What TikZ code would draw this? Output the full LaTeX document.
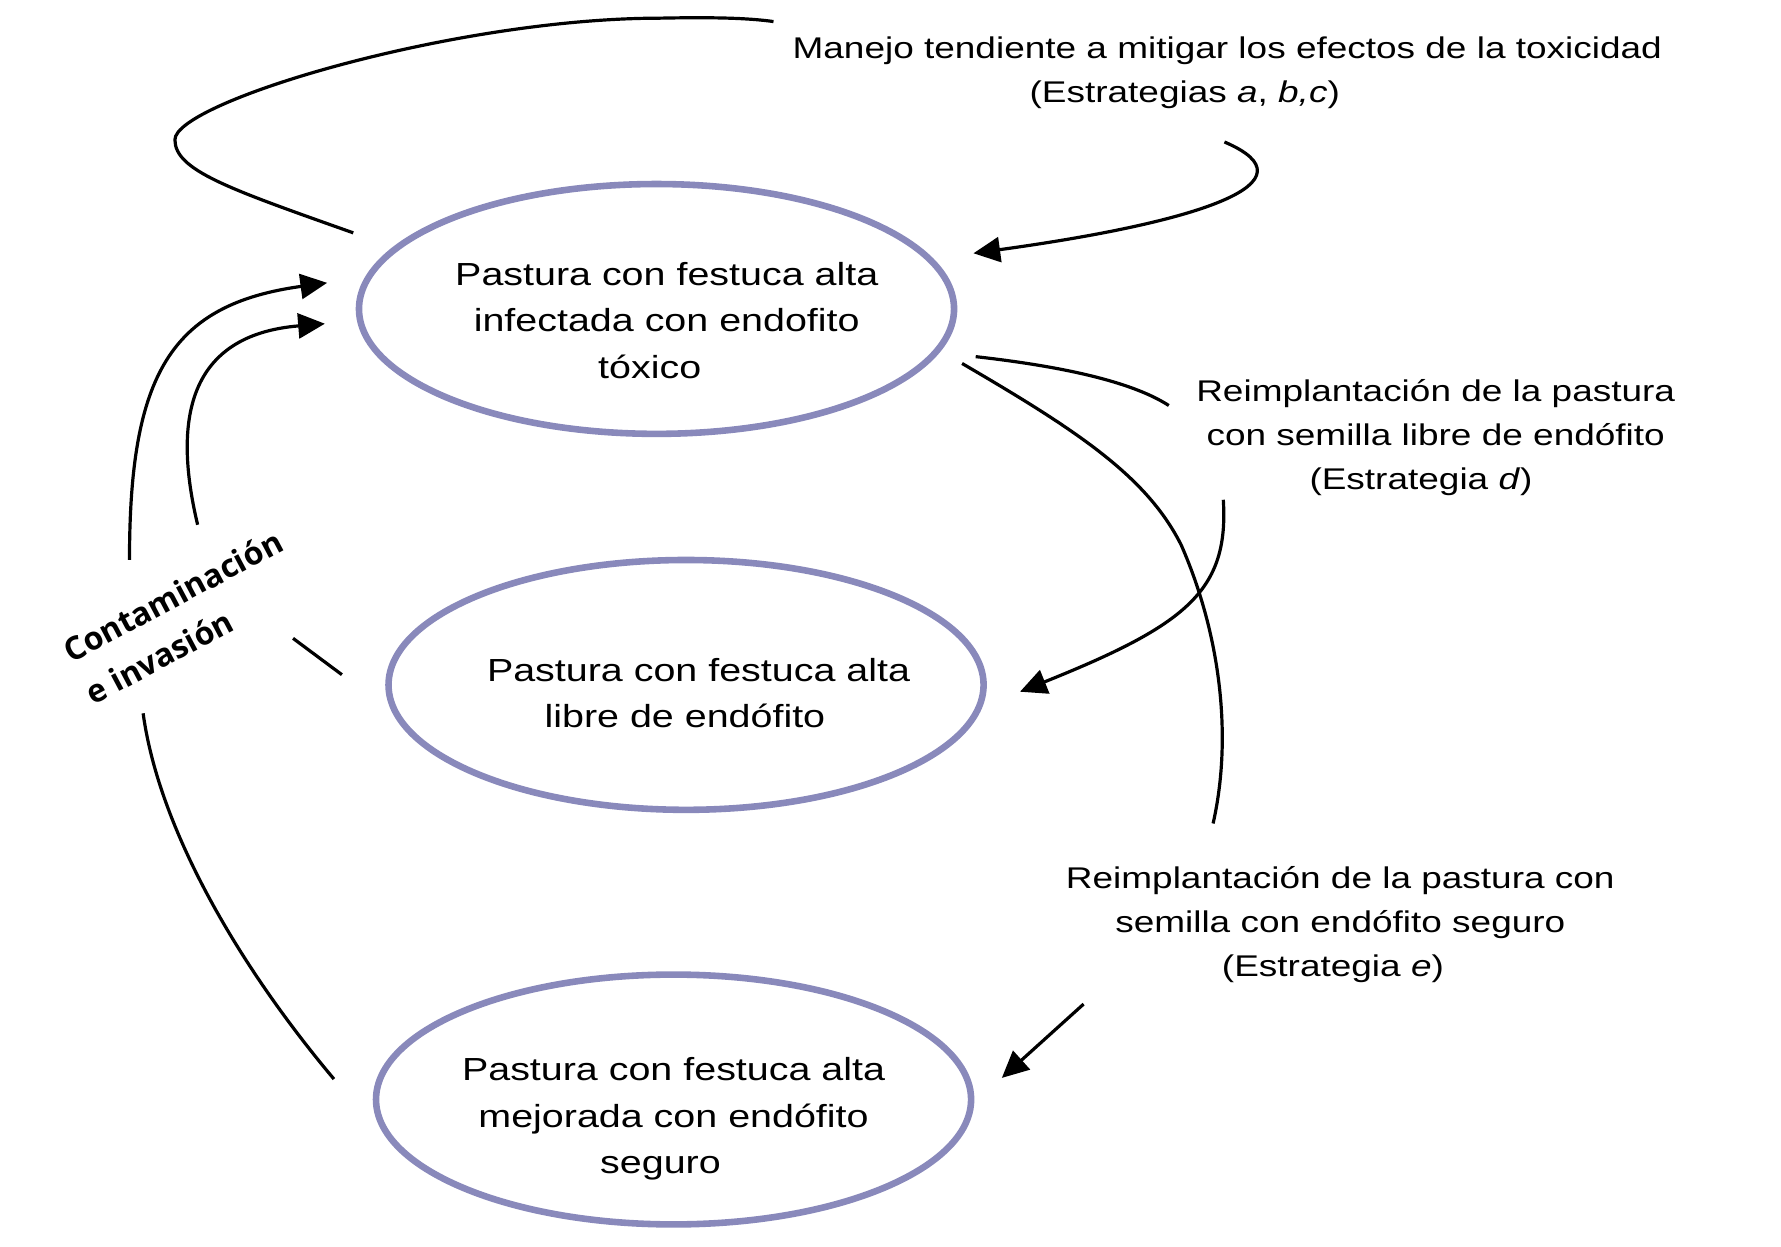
\documentclass[tikz,border=0pt]{standalone}
\usepackage{fontspec}
\setmainfont{Liberation Sans}[FakeStretch=1.235]
\newfontfamily\contfont{Open Sans}
\usetikzlibrary{shapes.geometric,arrows.meta}
\definecolor{ellcol}{RGB}{137,137,187}
\begin{document}
\begin{tikzpicture}[x=0.02cm,y=-0.02cm,
  pasture/.style={draw=ellcol,line width=3.3pt,ellipse,inner sep=0pt,minimum width=10.48cm,minimum height=4.4cm},
  pastext/.style={align=center,inner sep=0pt,font=\fontsize{16}{23.3}\selectfont},
  lbl/.style={align=center,inner sep=0pt,font=\fontsize{15}{22.1}\selectfont},
  conn/.style={line width=1.6pt,black},
  arr/.style={conn,-{Triangle[length=0.47cm,width=0.44cm]}}]
\useasboundingbox (0,0) rectangle (1568,1097);

% ellipses
\node[pasture] (e1) at (578,272) {};
\node[pasture] (e2) at (604,603) {};
\node[pasture] (e3) at (593,968) {};

\node[pastext] (t1) at (587,282) {Pastura con festuca alta\\infectada con endofito\\t\'oxico\hspace*{0.6cm}};
\node[pastext] (t2) at (615,610) {Pastura con festuca alta\\libre de end\'ofito\hspace*{0.48cm}};
\node[pastext] (t3) at (593,985) {Pastura con festuca alta\\mejorada con end\'ofito\hspace*{0.24cm}\\seguro\hspace*{0.46cm}};

% labels
\node[lbl] (lman) at (1061,64) {\hspace*{0.78cm}Manejo tendiente a mitigar los efectos de la toxicidad\\(Estrategias \textit{a}, \textit{b,c})\hspace*{0.72cm}};
\node[lbl] (ld) at (1264,385) {Reimplantaci\'on de la pastura\\con semilla libre de end\'ofito\\(Estrategia \textit{d})\hspace*{0.52cm}};
\node[lbl] (le) at (1180,814) {Reimplantaci\'on de la pastura con\\semilla con end\'ofito seguro\\(Estrategia \textit{e})\hspace*{0.26cm}};
\node[rotate=28,align=left,inner sep=0pt,font=\contfont\bfseries\fontsize{16}{23.8}\selectfont] (cont) at (162,543) {Contaminaci\'on\\e invasi\'on};

% coordinates
\coordinate (mA) at (311,205);
\coordinate (mB) at (681,19);
\coordinate (mC) at (1078,125);
\coordinate (mT) at (857,223);
\coordinate (cA) at (114,493);
\coordinate (cAt) at (288,249);
\coordinate (cB) at (174,462);
\coordinate (cBt) at (286,285);
\coordinate (cD1) at (258,562);
\coordinate (cD2) at (301,594);
\coordinate (cE1) at (126,628);
\coordinate (cE2) at (294,950);
\coordinate (dA) at (859,314);
\coordinate (dB) at (1029,357);
\coordinate (fA) at (847,320);
\coordinate (fB) at (1068,725);
\coordinate (dS) at (1077,440);
\coordinate (dT) at (898,609);
\coordinate (eS) at (954,884);
\coordinate (eT) at (882,949);

% top loop: management
\draw[conn] (mA) .. controls (201,166) and (154,150) .. (154,123)
  .. controls (154,90) and (400,16) .. (581,16)
  .. controls (630,15) and (660,16) .. (mB);
\draw[arr] (mC) .. controls (1160,160) and (1060,195) .. (mT);

% contamination
\draw[arr] (cA) .. controls (114,330) and (150,268) .. (cAt);
\draw[arr] (cB) .. controls (152,370) and (165,295) .. (cBt);
\draw[conn] (cD1) -- (cD2);
\draw[conn] (cE1) .. controls (140,730) and (210,850) .. (cE2);

% reimplantation d
\draw[conn] (dA) .. controls (930,322) and (995,335) .. (dB);
\draw[conn] (fA) .. controls (950,380) and (1010,420) .. (1040,480)
  .. controls (1075,560) and (1085,650) .. (fB);
\draw[arr] (dS) .. controls (1082,520) and (1045,550) .. (dT);

% reimplantation e
\draw[arr] (eS) -- (eT);
\end{tikzpicture}
\end{document}
